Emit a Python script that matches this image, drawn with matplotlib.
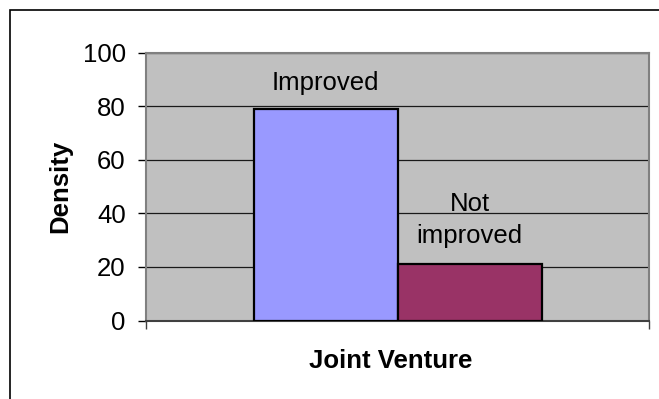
import matplotlib
matplotlib.use("Agg")
import matplotlib.pyplot as plt
from matplotlib.patches import Rectangle

categories = ["Improved", "Not\nimproved"]
values = [78.8, 21.2]
colors = ["#9999FF", "#993366"]
yticks = [0, 20, 40, 60, 80, 100]

plt.rcParams["font.family"] = ["Liberation Sans", "DejaVu Sans"]
FS = 18.5

W, H = 659, 399
fig = plt.figure(figsize=(W / 100, H / 100), dpi=100)
fig.patch.set_facecolor("white")

ax = fig.add_axes([146 / W, 1 - 320.5 / H, (649 - 146) / W, (320.5 - 52.5) / H])
ax.set_facecolor("#C0C0C0")

bar_w = 144 / 503
centers = [0.5 - bar_w / 2, 0.5 + bar_w / 2]
bars = ax.bar(centers, values, width=bar_w, color=colors,
              edgecolor="black", linewidth=1.6, zorder=3)

for bar, lab, off in zip(bars, categories, [10, 11]):
    ax.annotate(lab, (bar.get_x() + bar.get_width() / 2, bar.get_height()),
                xytext=(0, off), textcoords="offset points",
                ha="center", va="bottom", fontsize=FS, linespacing=1.42,
                zorder=4)

ax.set_xlim(0, 1)
ax.set_ylim(0, 100)
ax.set_yticks(yticks)
ax.set_yticklabels([str(v) for v in yticks], fontsize=FS)
ax.set_xticks([0, 1])
ax.set_xticklabels(["", ""])
ax.yaxis.grid(True, color="#1a1a1a", linewidth=0.9, zorder=1)
ax.set_axisbelow(True)
ax.tick_params(axis="y", direction="out", length=6, width=1, color="black", pad=8.5)
ax.tick_params(axis="x", direction="out", length=6, width=1, color="#404040")

for side in ["top", "right", "left"]:
    ax.spines[side].set_color("#808080")
    ax.spines[side].set_linewidth(1.5)
ax.spines["bottom"].set_color("#404040")
ax.spines["bottom"].set_linewidth(1.5)

fig.text(60 / W, 1 - 186 / H, "Density", rotation=90, ha="center", va="center",
         fontsize=FS, fontweight="bold")
fig.text(391 / W, 1 - 361 / H, "Joint Venture", ha="center", va="center",
         fontsize=FS, fontweight="bold")

fig.add_artist(Rectangle((10 / W, -0.1), 1.0, (H - 9.5) / H + 0.1,
                         transform=fig.transFigure, fill=False,
                         edgecolor="black", linewidth=1.2))

fig.savefig("out.png", dpi=100)
